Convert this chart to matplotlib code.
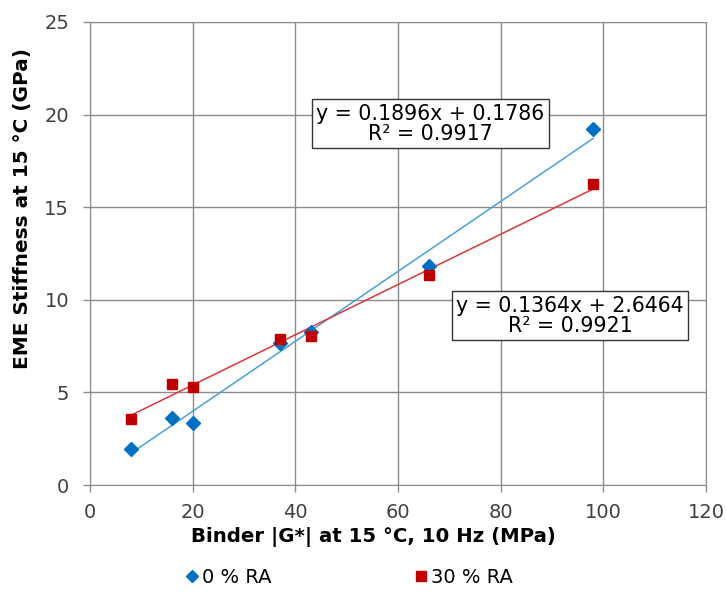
import matplotlib.pyplot as plt
import numpy as np

plt.rcParams["font.family"] = "DejaVu Sans"

# data
binder_g = [8, 16, 20, 37, 43, 66, 98]
stiff_0ra = [1.95, 3.62, 3.35, 7.65, 8.25, 11.8, 19.2]
stiff_30ra = [3.55, 5.48, 5.3, 7.88, 8.05, 11.35, 16.25]
series_names = ["0 % RA", "30 % RA"]
eq_0ra = "y = 0.1896x + 0.1786\nR² = 0.9917"
eq_30ra = "y = 0.1364x + 2.6464\nR² = 0.9921"

color_0 = "#0070C0"
color_30 = "#C00000"
trend_0 = "#4A9FD8"
trend_30 = "#D9383A"

fig = plt.figure(figsize=(7.26, 5.94), dpi=100)
ax = fig.add_axes([0.124, 0.1835, 0.8485, 0.7795])

x = np.array(binder_g)
for ys, c, tc, m, ms, name in [
    (stiff_0ra, color_0, trend_0, "D", 7.5, series_names[0]),
    (stiff_30ra, color_30, trend_30, "s", 7.8, series_names[1]),
]:
    ys = np.array(ys)
    k, b = np.polyfit(x, ys, 1)
    xx = np.array([x.min(), x.max()])
    ax.plot(xx, k * xx + b, color=tc, lw=1.1, zorder=2)
    ax.plot(x, ys, ls="none", marker=m, ms=ms, color=c, mec=c, label=name, zorder=3)

box = dict(boxstyle="square,pad=0.22", fc="white", ec="#333333", lw=1)
ax.text(66.3, 19.5, eq_0ra, ha="center", va="center", fontsize=14.8,
        bbox=box, linespacing=1.0, zorder=4)
ax.text(93.5, 9.13, eq_30ra, ha="center", va="center", fontsize=14.8,
        bbox=box, linespacing=1.0, zorder=4)

ax.set_xlim(0, 120)
ax.set_ylim(0, 25)
ax.set_xticks(np.arange(0, 121, 20))
ax.set_yticks(np.arange(0, 26, 5))
ax.grid(True, color="#8c8c8c", lw=1)
ax.set_axisbelow(True)
for s in ax.spines.values():
    s.set_color("#8c8c8c")
ax.tick_params(labelsize=14, colors="#8c8c8c", labelcolor="#404040",
               length=5, width=1)
ax.tick_params(axis="x", pad=8)
ax.tick_params(axis="y", pad=10)

ax.set_xlabel("Binder |G*| at 15 °C, 10 Hz (MPa)", fontsize=14.2,
              fontweight="bold")
ax.set_ylabel("EME Stiffness at 15 °C (GPa)", fontsize=14.4,
              fontweight="bold", va="center", ha="center")
ax.xaxis.set_label_coords(0.460, -0.09)
ax.yaxis.set_label_coords(-0.110, 0.597)

fig.legend(loc="center", bbox_to_anchor=(0.478, 0.028), ncol=2, frameon=False,
           fontsize=14, handletextpad=0.0, columnspacing=7.1,
           handlelength=1.1, markerscale=0.85)

plt.savefig("out.png", dpi=100)
